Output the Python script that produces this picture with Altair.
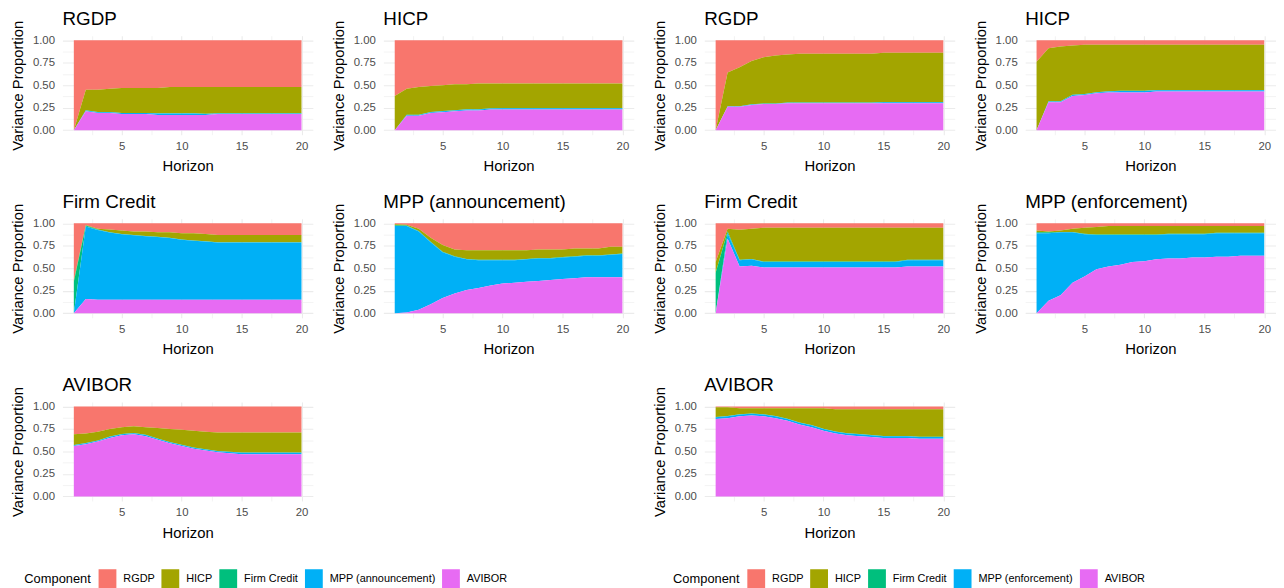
import altair as alt
import pandas as pd

HORIZON = list(range(1, 21))
LABELS_ANN = ["RGDP", "HICP", "Firm Credit", "MPP (announcement)", "AVIBOR"]
LABELS_ENF = ["RGDP", "HICP", "Firm Credit", "MPP (enforcement)", "AVIBOR"]
COLORS = ["#F8766D", "#A3A500", "#00BF7D", "#00B0F6", "#E76BF3"]

# ---- announcement model ----
ann_rgdp = {
    "RGDP":   [1.0, .55, .55, .54, .53, .53, .53, .53, .52, .52, .52, .52, .52, .52, .52, .52, .52, .52, .52, .52],
    "HICP":   [0, .228, .248, .258, .278, .278, .278, .283, .293, .293, .293, .298, .293, .293, .293, .293, .293, .293, .293, .293],
    "Firm":   [0, .002, .002, .002, .002, .002, .002, .002, .002, .002, .002, .002, .002, .002, .002, .002, .002, .002, .002, .002],
    "MPP":    [0, .01, .01, .01, .01, .01, .01, .015, .015, .015, .015, .01, .005, .005, .005, .005, .005, .005, .005, .005],
    "AVIBOR": [0, .21, .19, .19, .18, .18, .18, .17, .17, .17, .17, .17, .18, .18, .18, .18, .18, .18, .18, .18],
}
ann_hicp = {
    "RGDP":   [.62, .54, .52, .51, .50, .49, .49, .48, .48, .48, .48, .48, .48, .48, .48, .48, .48, .48, .48, .48],
    "HICP":   [.38, .287, .307, .287, .287, .287, .277, .287, .277, .272, .272, .272, .272, .272, .272, .272, .272, .272, .272, .272],
    "Firm":   [0, .003, .003, .003, .003, .003, .003, .003, .003, .003, .003, .003, .003, .003, .003, .003, .003, .003, .003, .003],
    "MPP":    [0, .01, .01, .01, .01, .01, .01, .01, .01, .015, .015, .015, .015, .015, .015, .015, .015, .015, .015, .015],
    "AVIBOR": [0, .16, .16, .19, .20, .21, .22, .22, .23, .23, .23, .23, .23, .23, .23, .23, .23, .23, .23, .23],
}
ann_firm = {
    "RGDP":   [.63, .02, .06, .07, .08, .09, .09, .10, .10, .11, .11, .12, .13, .13, .13, .13, .13, .13, .13, .13],
    "HICP":   [.02, .005, .01, .03, .04, .04, .05, .05, .06, .07, .08, .08, .08, .08, .08, .08, .08, .08, .08, .08],
    "Firm":   [.35, .01, .003, .003, .003, .003, .003, .003, .003, .003, .003, .003, .003, .003, .003, .003, .003, .003, .003, .003],
    "MPP":    [0, .81, .78, .75, .73, .72, .71, .70, .69, .67, .66, .65, .64, .64, .64, .64, .64, .64, .64, .64],
    "AVIBOR": [0, .16, .15, .15, .15, .15, .15, .15, .15, .15, .15, .15, .15, .15, .15, .15, .15, .15, .15, .15],
}
ann_mpp = {
    "RGDP":   [.01, .015, .06, .16, .24, .29, .30, .30, .30, .30, .30, .30, .29, .29, .29, .28, .28, .28, .26, .26],
    "HICP":   [.01, .01, .025, .045, .075, .075, .095, .105, .105, .105, .105, .095, .095, .095, .085, .085, .075, .075, .085, .075],
    "Firm":   [.01, .005, .005, .005, .005, .005, .005, .005, .005, .005, .005, .005, .005, .005, .005, .005, .005, .005, .005, .005],
    "MPP":    [.97, .96, .87, .69, .51, .41, .34, .31, .28, .26, .25, .25, .25, .24, .24, .24, .24, .24, .25, .26],
    "AVIBOR": [0, .01, .04, .10, .17, .22, .26, .28, .31, .33, .34, .35, .36, .37, .38, .39, .40, .40, .40, .40],
}
ann_avibor = {
    "RGDP":   [.31, .30, .28, .25, .23, .22, .23, .24, .25, .26, .27, .28, .29, .29, .29, .29, .29, .29, .29, .29],
    "HICP":   [.117, .107, .097, .085, .075, .075, .085, .115, .145, .165, .185, .195, .205, .212, .222, .222, .222, .222, .222, .222],
    "Firm":   [.003, .003, .003, .003, .003, .003, .003, .003, .003, .003, .003, .003, .003, .003, .003, .003, .003, .003, .003, .003],
    "MPP":    [.01, .01, .01, .012, .012, .012, .012, .012, .012, .012, .012, .012, .012, .015, .015, .015, .015, .015, .015, .015],
    "AVIBOR": [.56, .58, .61, .65, .68, .69, .67, .63, .59, .56, .53, .51, .49, .48, .47, .47, .47, .47, .47, .47],
}

# ---- enforcement model ----
enf_rgdp = {
    "RGDP":   [1.0, .36, .30, .23, .19, .17, .16, .15, .15, .15, .15, .15, .15, .15, .14, .14, .14, .14, .14, .14],
    "HICP":   [0, .373, .433, .483, .513, .533, .533, .543, .543, .543, .543, .543, .543, .543, .548, .548, .548, .548, .548, .548],
    "Firm":   [0, .002, .002, .002, .002, .002, .002, .002, .002, .002, .002, .002, .002, .002, .002, .002, .002, .002, .002, .002],
    "MPP":    [0, .005, .005, .005, .005, .005, .005, .005, .005, .005, .005, .005, .005, .005, .01, .01, .01, .01, .01, .01],
    "AVIBOR": [0, .26, .26, .28, .29, .29, .30, .30, .30, .30, .30, .30, .30, .30, .30, .30, .30, .30, .30, .30],
}
enf_hicp = {
    "RGDP":   [.24, .09, .07, .06, .05, .05, .05, .05, .05, .05, .05, .05, .05, .05, .05, .05, .05, .05, .05, .05],
    "HICP":   [.76, .587, .607, .547, .547, .527, .517, .512, .512, .512, .502, .502, .502, .502, .502, .502, .502, .502, .502, .502],
    "Firm":   [0, .003, .003, .003, .003, .003, .003, .003, .003, .003, .003, .003, .003, .003, .003, .003, .003, .003, .003, .003],
    "MPP":    [0, .01, .01, .01, .01, .01, .01, .015, .015, .015, .015, .015, .015, .015, .015, .015, .015, .015, .015, .015],
    "AVIBOR": [0, .31, .31, .38, .39, .41, .42, .42, .42, .42, .43, .43, .43, .43, .43, .43, .43, .43, .43, .43],
}
enf_firm = {
    "RGDP":   [.43, .06, .07, .06, .05, .05, .05, .05, .05, .05, .05, .05, .05, .05, .05, .05, .05, .05, .05, .05],
    "HICP":   [.12, .03, .335, .335, .375, .375, .375, .375, .375, .375, .375, .375, .375, .375, .375, .375, .355, .355, .355, .355],
    "Firm":   [.45, .02, .005, .005, .005, .005, .005, .005, .005, .005, .005, .005, .005, .005, .005, .005, .005, .005, .005, .005],
    "MPP":    [0, .06, .07, .07, .06, .06, .06, .06, .06, .06, .06, .06, .06, .06, .06, .06, .07, .07, .07, .07],
    "AVIBOR": [0, .83, .52, .53, .51, .51, .51, .51, .51, .51, .51, .51, .51, .51, .51, .51, .52, .52, .52, .52],
}
enf_mpp = {
    "RGDP":   [.08, .09, .08, .06, .05, .04, .03, .03, .03, .03, .03, .03, .03, .03, .03, .03, .03, .03, .03, .03],
    "HICP":   [.02, .01, .015, .035, .065, .085, .095, .095, .095, .095, .095, .085, .085, .085, .085, .075, .075, .075, .075, .075],
    "Firm":   [.01, .01, .005, .005, .005, .005, .005, .005, .005, .005, .005, .005, .005, .005, .005, .005, .005, .005, .005, .005],
    "MPP":    [.89, .75, .70, .56, .47, .38, .35, .33, .30, .29, .27, .27, .27, .26, .26, .26, .26, .25, .25, .25],
    "AVIBOR": [0, .14, .20, .34, .41, .49, .52, .54, .57, .58, .60, .61, .61, .62, .62, .63, .63, .64, .64, .64],
}
enf_avibor = {
    "RGDP":   [.01, .01, .02, .02, .02, .02, .02, .02, .02, .02, .03, .03, .03, .03, .03, .03, .03, .03, .03, .03],
    "HICP":   [.107, .097, .067, .057, .067, .087, .117, .157, .187, .227, .247, .267, .277, .287, .297, .297, .297, .307, .307, .307],
    "Firm":   [.003, .003, .003, .003, .003, .003, .003, .003, .003, .003, .003, .003, .003, .003, .003, .003, .003, .003, .003, .003],
    "MPP":    [.02, .02, .02, .02, .02, .02, .02, .02, .02, .02, .02, .02, .02, .02, .02, .02, .02, .02, .02, .02],
    "AVIBOR": [.86, .87, .89, .90, .89, .87, .84, .80, .77, .73, .70, .68, .67, .66, .65, .65, .65, .64, .64, .64],
}

PANELS = [
    ("a_rgdp", "RGDP", ann_rgdp, LABELS_ANN),
    ("a_hicp", "HICP", ann_hicp, LABELS_ANN),
    ("e_rgdp", "RGDP", enf_rgdp, LABELS_ENF),
    ("e_hicp", "HICP", enf_hicp, LABELS_ENF),
    ("a_firm", "Firm Credit", ann_firm, LABELS_ANN),
    ("a_mpp", "MPP (announcement)", ann_mpp, LABELS_ANN),
    ("e_firm", "Firm Credit", enf_firm, LABELS_ENF),
    ("e_mpp", "MPP (enforcement)", enf_mpp, LABELS_ENF),
    ("a_avibor", "AVIBOR", ann_avibor, LABELS_ANN),
    ("e_avibor", "AVIBOR", enf_avibor, LABELS_ENF),
]
KEYS = ["RGDP", "HICP", "Firm", "MPP", "AVIBOR"]

rows = []
for key, title, data, labels in PANELS:
    for ci, k in enumerate(KEYS):
        for hi, h in enumerate(HORIZON):
            rows.append({"panel": key, "h": h, "component": labels[ci],
                         "value": data[k][hi], "ord": 4 - ci})
df = pd.DataFrame(rows)

FONT = "Liberation Sans"
W, H = 253, 100

xaxis = alt.Axis(
    values=[2.5, 5, 7.5, 10, 12.5, 15, 17.5, 20],
    labelExpr="datum.value % 5 == 0 ? format(datum.value, 'd') : ''",
    grid=True, gridColor="#EBEBEB",
    gridWidth={"condition": {"test": "datum.value % 5 == 0", "value": 1.1}, "value": 0.6},
    ticks=False, tickSize=0, domain=False, labelColor="#4D4D4D", labelFontSize=11.5,
    labelFont=FONT, labelPadding=6, title="Horizon", titleFont=FONT, titleFontSize=15,
    titleFontWeight="normal", titleColor="black", titlePadding=7,
)
yaxis = alt.Axis(
    values=[0, 0.125, 0.25, 0.375, 0.5, 0.625, 0.75, 0.875, 1.0],
    labelExpr="(datum.value * 8) % 2 == 0 ? format(datum.value, '.2f') : ''",
    grid=True, gridColor="#EBEBEB",
    gridWidth={"condition": {"test": "(datum.value * 8) % 2 == 0", "value": 1.1}, "value": 0.6},
    ticks=False, tickSize=0, domain=False, labelColor="#4D4D4D", labelFontSize=11.5,
    labelFont=FONT, labelPadding=8, title="Variance Proportion", titleFont=FONT,
    titleFontSize=15, titleFontWeight="normal", titleColor="black", titlePadding=7,
)

KEY_SHAPE = "M-1,-1.111H1V1.111H-1Z"


def make_legend(x, y):
    return alt.Legend(
        title="Component", orient="none", legendX=x, legendY=y, direction="horizontal",
        titleOrient="left", titleFont=FONT, titleFontSize=13, titleFontWeight="normal",
        titleColor="black", titlePadding=7, titleBaseline="middle",
        symbolType=KEY_SHAPE, symbolSize=324, symbolStrokeWidth=0, symbolOpacity=1,
        labelFont=FONT, labelFontSize=11, labelColor="black", labelOffset=7,
        columnPadding=6.5,
    )


def panel(key, title, labels, legend=None):
    return alt.Chart(df).transform_filter(alt.datum.panel == key).mark_area(
        interpolate="linear"
    ).encode(
        x=alt.X("h:Q", scale=alt.Scale(domain=[0.05, 20.95], nice=False, zero=False), axis=xaxis),
        y=alt.Y("value:Q", stack="normalize",
                scale=alt.Scale(domain=[-0.05, 1.05], nice=False, zero=False), axis=yaxis),
        color=alt.Color("component:N", scale=alt.Scale(domain=labels, range=COLORS), legend=legend),
        order=alt.Order("ord:Q", sort="ascending"),
    ).properties(
        width=W, height=H,
        title=alt.TitleParams(title, anchor="start", frame="group", font=FONT, fontSize=19,
                              fontWeight="normal", color="black", baseline="alphabetic", offset=-23.5),
    )


charts = []
for key, title, data, labels in PANELS:
    legend = None
    if key == "a_avibor":
        legend = make_legend(-38.5, 170)
    elif key == "e_avibor":
        legend = make_legend(-31.5, 170)
    charts.append(panel(key, title, labels, legend))

blank = alt.Chart(pd.DataFrame({"a": [0]})).mark_point(opacity=0).encode(
    x=alt.value(0), y=alt.value(0)
).properties(width=W, height=H)

ordered = charts[:9] + [blank] + charts[9:]

chart = alt.concat(*ordered, columns=4, spacing={"column": 71.2, "row": 85}, bounds="flush").resolve_scale(
    color="independent"
).properties(
    padding={"left": 2, "top": -2, "right": 0, "bottom": 0}, background="white"
).configure_view(stroke=None)

chart.save("out.html", embed_options={"renderer": "svg", "actions": False})
